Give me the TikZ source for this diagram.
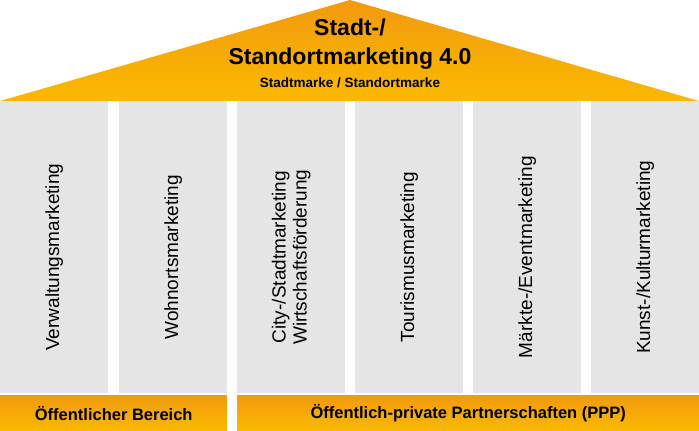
\documentclass[tikz,border=0pt]{standalone}
\usepackage{fontspec}
\setmainfont{Liberation Sans}
\usetikzlibrary{positioning}
\definecolor{roofdark}{HTML}{F29A0E}
\definecolor{roofyellow}{HTML}{FAB900}
\definecolor{pillargray}{HTML}{E5E5E5}
\tikzset{
  pillar/.style={fill=pillargray,minimum width=108pt,minimum height=292pt,inner sep=0pt,anchor=north west},
  pillartext/.style={rotate=90,align=center,font=\fontsize{19pt}{21pt}\selectfont},
  basebar/.style={top color=roofdark,bottom color=roofyellow,minimum height=36pt,inner sep=0pt,anchor=north west,font=\bfseries\fontsize{16.5pt}{18pt}\selectfont}
}
\begin{document}
\begin{tikzpicture}[x=1pt,y=-1pt]
\useasboundingbox (0,0) rectangle (699,431);

% roof
\path[top color=roofdark,bottom color=roofyellow] (0,101) -- (350,0) -- (699,101) -- cycle;
\node (title) at (350,44) [align=center,font=\bfseries\fontsize{23pt}{29pt}\selectfont] {Stadt-/\\Standortmarketing 4.0};
\node (brand) at (350,83) [font=\bfseries\fontsize{13.5pt}{15pt}\selectfont] {Stadtmarke / Standortmarke};

% pillars
\node (p1) at (0,101)   [pillar] {};
\node (p2) at (119,101) [pillar] {};
\node (p3) at (237,101) [pillar] {};
\node (p4) at (355,101) [pillar] {};
\node (p5) at (473,101) [pillar] {};
\node (p6) at (591,101) [pillar] {};
\node (t1) at ([yshift=-10pt]p1.center) [pillartext] {Verwaltungsmarketing};
\node (t2) at ([yshift=-10pt]p2.center) [pillartext] {Wohnortsmarketing};
\node (t3) at ([yshift=-10pt]p3.center) [pillartext] {City-/Stadtmarketing\\Wirtschaftsförderung};
\node (t4) at ([yshift=-10pt]p4.center) [pillartext] {Tourismusmarketing};
\node (t5) at ([yshift=-10pt]p5.center) [pillartext] {Märkte-/Eventmarketing};
\node (t6) at ([yshift=-10pt]p6.center) [pillartext] {Kunst-/Kulturmarketing};

% base
\node (public) at (0,395)   [basebar,minimum width=227pt] {Öffentlicher Bereich};
\node (ppp)    at (237,395) [basebar,minimum width=462pt] {Öffentlich-private Partnerschaften (PPP)};

\end{tikzpicture}
\end{document}
